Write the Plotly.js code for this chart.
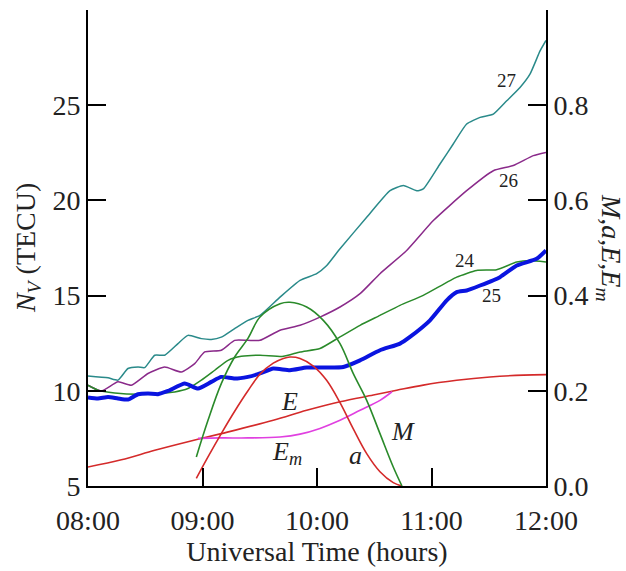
<!DOCTYPE html>
<html>
<head>
<meta charset="utf-8">
<script src="https://cdn.plot.ly/plotly-3.0.1.min.js"></script>
<style>html,body{margin:0;padding:0;background:#fff;}#chart{width:626px;height:571px;}</style>
</head>
<body>
<div id="chart"></div>
<script>
// Time in decimal hours (UT)
const t27 = [8.000,8.175,8.262,8.349,8.437,8.495,8.583,8.670,8.786,8.873,8.990,9.077,9.164,9.281,9.397,9.502,9.677,9.852,9.997,10.085,10.201,10.434,10.638,10.754,10.871,10.928,11.074,11.190,11.307,11.424,11.540,11.657,11.773,11.860,11.948,12.000];
const n27 = [10.78,10.68,10.56,11.17,11.25,11.22,11.87,11.87,12.48,12.91,12.74,12.70,12.82,13.27,13.70,13.96,14.92,15.80,16.15,16.58,17.46,19.11,20.51,20.78,20.51,20.60,21.91,22.96,24.01,24.36,24.53,25.23,25.93,26.63,27.85,28.40];

const t26 = [8.000,8.116,8.262,8.378,8.524,8.670,8.815,8.932,9.019,9.164,9.281,9.397,9.502,9.677,9.852,10.026,10.201,10.376,10.550,10.783,11.016,11.307,11.540,11.714,11.889,12.000];
const n26 = [10.29,9.99,10.47,10.29,10.91,11.25,10.99,11.43,12.04,12.13,12.65,12.65,12.65,13.18,13.44,13.87,14.40,15.10,16.15,17.37,18.94,20.51,21.56,21.83,22.35,22.52];

const t24 = [8.000,8.087,8.233,8.437,8.583,8.757,8.873,8.990,9.107,9.223,9.339,9.502,9.706,9.852,10.026,10.201,10.376,10.550,10.725,10.928,11.220,11.394,11.569,11.744,11.860,12.000];
const n24 = [10.29,10.03,9.89,9.82,9.86,9.94,10.12,10.56,11.08,11.60,11.81,11.87,11.81,12.04,12.22,12.83,13.44,13.96,14.49,15.01,15.97,16.32,16.36,16.76,16.84,16.76];

const t25 = [8.000,8.087,8.175,8.262,8.349,8.437,8.524,8.611,8.699,8.845,8.961,9.077,9.164,9.281,9.397,9.502,9.618,9.764,9.910,10.085,10.230,10.376,10.550,10.725,10.812,10.987,11.133,11.220,11.307,11.424,11.598,11.744,11.918,12.000];
const n25 = [9.65,9.60,9.68,9.60,9.54,9.82,9.86,9.82,9.99,10.38,10.12,10.47,10.73,10.64,10.73,10.91,11.17,11.08,11.22,11.22,11.25,11.60,12.13,12.48,12.83,13.70,14.75,15.18,15.27,15.53,15.97,16.58,16.93,17.37];

// Right-axis quantities
const tM = [8.946,9.048,9.164,9.281,9.397,9.502,9.677,9.764,9.910,10.055,10.201,10.317,10.434,10.550,10.666,10.742];
const vM = [0.061,0.138,0.215,0.271,0.310,0.355,0.383,0.386,0.376,0.348,0.299,0.236,0.180,0.110,0.040,0.000];

const tA = [8.946,9.048,9.164,9.281,9.397,9.502,9.618,9.706,9.764,9.852,9.968,10.084,10.201,10.317,10.434,10.550,10.666,10.742];
const vA = [0.016,0.061,0.110,0.157,0.200,0.235,0.258,0.268,0.271,0.268,0.252,0.222,0.175,0.120,0.068,0.030,0.007,0.000];

const tE = [8.000,8.291,8.583,8.873,9.164,9.618,9.910,10.201,10.492,10.696,10.928,11.220,11.511,11.802,12.000];
const vE = [0.040,0.055,0.075,0.093,0.110,0.138,0.159,0.177,0.191,0.201,0.212,0.222,0.229,0.233,0.234];

const tEm = [8.961,9.153,9.397,9.677,9.852,10.026,10.201,10.376,10.550,10.655];
const vEm = [0.100,0.101,0.101,0.103,0.109,0.121,0.138,0.159,0.180,0.198];

const xTicks = [8,9,10,11,12];
const xTickText = ['08:00','09:00','10:00','11:00','12:00'];
const yTicks = [5,10,15,20,25];
const y2Ticks = [0,0.2,0.4,0.6,0.8];
const y2TickText = ['0.0','0.2','0.4','0.6','0.8'];

const serif = 'Liberation Serif';

const smooth = {shape:'spline', smoothing:1};
const noisy = {shape:'spline', smoothing:0.5};

const traces = [
  {x:tE, y:vE, yaxis:'y2', mode:'lines', line:Object.assign({color:'#d42a2a', width:1.6}, smooth)},
  {x:tEm, y:vEm, yaxis:'y2', mode:'lines', line:Object.assign({color:'#e040e0', width:1.6}, smooth)},
  {x:tA, y:vA, yaxis:'y2', mode:'lines', line:Object.assign({color:'#d42a2a', width:1.6}, smooth)},
  {x:tM, y:vM, yaxis:'y2', mode:'lines', line:Object.assign({color:'#2a8a2a', width:1.6}, smooth)},
  {x:t27, y:n27, mode:'lines', line:Object.assign({color:'#2a8a8a', width:1.5}, noisy)},
  {x:t26, y:n26, mode:'lines', line:Object.assign({color:'#8a2a8a', width:1.5}, noisy)},
  {x:t24, y:n24, mode:'lines', line:Object.assign({color:'#2a8a2a', width:1.5}, noisy)},
  {x:t25, y:n25, mode:'lines', line:Object.assign({color:'#0a14e0', width:4}, noisy)}
];

const lab = (x, y, text, size) => ({x:x, y:y, xref:'x', yref:'y', text:text, showarrow:false,
  font:{family:serif, size:size, color:'#222'}, xanchor:'center', yanchor:'middle'});

const tf = {family:serif, size:28, color:'#222'};

const layout = {
  width:626, height:571,
  margin:{l:88, r:80, t:10, b:85},
  paper_bgcolor:'#fff', plot_bgcolor:'#fff',
  showlegend:false,
  font:tf,
  xaxis:{range:[8,12], tickvals:xTicks, ticktext:xTickText, ticks:'inside', ticklen:18, tickwidth:2,
    tickcolor:'#000', showline:true, linecolor:'#000', linewidth:2, showgrid:false, zeroline:false,
    tickfont:tf, ticklabelstandoff:8,
    title:{text:'Universal Time (hours)', font:tf, standoff:6}},
  yaxis:{range:[5,30], tickvals:yTicks, ticks:'inside', ticklen:18, tickwidth:2, tickcolor:'#000',
    showline:true, linecolor:'#000', linewidth:2, showgrid:false, zeroline:false, tickfont:tf},
  yaxis2:{range:[0,1], overlaying:'y', side:'right', tickvals:y2Ticks, ticktext:y2TickText, ticks:'inside',
    ticklen:18, tickwidth:2, tickcolor:'#000', showline:true, linecolor:'#000', linewidth:2,
    showgrid:false, zeroline:false, tickfont:tf},
  annotations:[
    {x:-0.133, y:0.5, xref:'paper', yref:'paper', text:'<i>N<sub>V</sub></i> (TECU)', textangle:-90,
      showarrow:false, font:tf, xanchor:'center', yanchor:'middle'},
    {x:1.14, y:0.5, xref:'paper', yref:'paper', text:'<i>M,a,E,E<sub>m</sub></i>', textangle:90,
      showarrow:false, font:tf, xanchor:'center', yanchor:'middle'},
    lab(11.656, 26.32, '27', 19),
    lab(11.671, 21.04, '26', 19),
    lab(11.293, 16.84, '24', 19),
    lab(11.526, 15.01, '25', 19),
    lab(9.764, 9.42, '<i>E</i>', 26),
    lab(9.74, 6.73, '<i>E<sub>m</sub></i>', 26),
    lab(10.332, 6.62, '<i>a</i>', 26),
    lab(10.754, 7.85, '<i>M</i>', 26)
  ]
};

Plotly.newPlot('chart', traces, layout, {displayModeBar:false, staticPlot:true});
</script>
</body>
</html>
